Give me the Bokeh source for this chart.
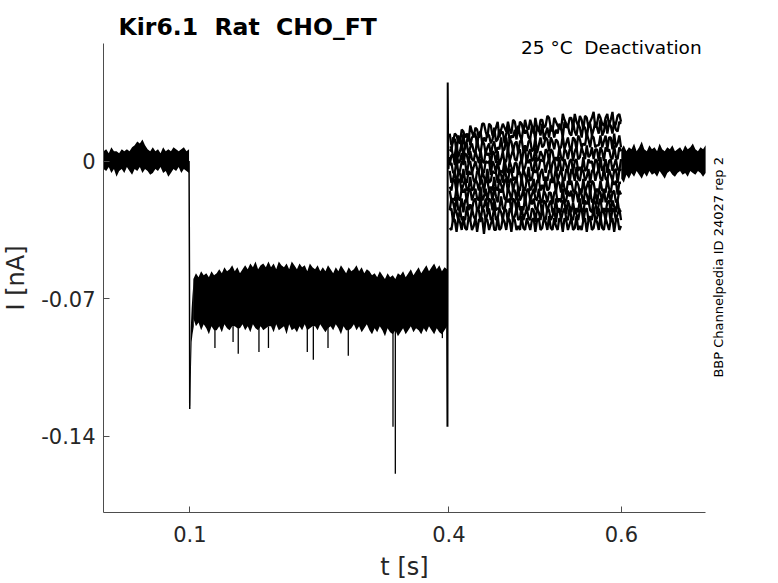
import numpy as np
from bokeh.plotting import figure
from bokeh.models import Range1d, FixedTicker, Label
from bokeh.embed import file_html
from bokeh.resources import INLINE

# ---------------- data (current in pA, time in s) ----------------
X_TICKS = [0.1, 0.4, 0.6]
X_TICK_LABELS = ["0.1", "0.4", "0.6"]
Y_TICKS = [-0.14, -0.07, 0.0]
Y_TICK_LABELS = ["-0.14", "-0.07", "0"]

# holding current before the step (envelope of the overlaid sweeps)
BASE_T = [0.0, 0.099]
BASE_UP_PA = [5, 6, 4, 7, 5, 5, 4, 6, 5, 6, 5, 7, 8, 10, 9, 11, 8, 6, 5, 7, 5, 6, 4, 7, 5, 6, 5, 7, 6, 5, 6, 7, 5, 6]
BASE_LO_PA = [-4, -5, -3, -6, -4, -8, -5, -4, -6, -3, -5, -7, -4, -5, -3, -6, -4, -5, -7, -6, -4, -5, -3, -6, -5, -8, -6, -4, -5, -3, -6, -4, -5, -6]

# capacitive spike at the step to the activation potential
STEP1_T = [0.099, 0.0995, 0.0998]
STEP1_PA = [0, -60, -126]
REC_T = [0.0998, 0.1003, 0.101, 0.102, 0.103, 0.1045]
REC_UP_PA = [-120, -100, -85, -75, -68, -60]
REC_LO_PA = [-126, -124, -110, -92, -88, -84]

# activation phase (envelope of the overlaid sweeps)
ACT_T = [0.104, 0.398]
ACT_UP_PA = [-60, -57, -59, -56, -58, -57, -59, -56, -58, -57,
             -55, -57, -54, -56, -55, -53, -56, -54, -57, -55,
             -53, -55, -52, -54, -51, -55, -53, -52, -54, -51,
             -54, -52, -55, -51, -53, -54, -52, -55, -51, -53,
             -55, -52, -54, -53, -56, -52, -54, -55, -53, -56,
             -54, -56, -53, -55, -57, -54, -56, -53, -55, -57,
             -54, -56, -55, -53, -56, -54, -57, -55, -56, -58,
             -57, -59, -56, -58, -60, -57, -59, -58, -60, -57,
             -58, -56, -59, -57, -55, -58, -56, -54, -57, -55,
             -53, -56, -54, -52, -55, -53, -56, -54, -55]
ACT_LO_PA = [-80, -84, -82, -86, -83, -85, -88, -84, -86, -86,
             -84, -87, -83, -85, -86, -84, -84, -85, -85, -83,
             -86, -84, -87, -83, -85, -86, -84, -86, -85, -84,
             -84, -87, -83, -86, -85, -84, -88, -83, -86, -85,
             -87, -84, -86, -83, -86, -85, -84, -84, -86, -83,
             -85, -87, -85, -84, -86, -83, -85, -88, -84, -86,
             -86, -85, -83, -86, -84, -87, -85, -83, -86, -88,
             -85, -87, -84, -86, -89, -85, -87, -88, -86, -89,
             -87, -85, -88, -86, -84, -87, -85, -86, -88, -85,
             -87, -84, -86, -88, -85, -87, -88, -86, -84]

# brief downward excursions of single sweeps
DIP_T = [0.129, 0.150, 0.156, 0.180, 0.191, 0.236, 0.243, 0.260, 0.2835, 0.3353, 0.338, 0.3925]
DIP_FROM_PA = [-84, -84, -84, -84, -84, -84, -84, -84, -84, -84, -84, -84]
DIP_TO_PA = [-95, -92, -98, -97, -95, -97, -101, -95, -99, -135, -159, -90]

# capacitive transient at the step to the deactivation potential
STEP2_T = [0.398, 0.3984, 0.3987, 0.3991, 0.3996, 0.4005, 0.401]
STEP2_PA = [-84, -135, 40, 12, -4, 2, 0]

# deactivation tail currents, one list per sweep (0.401 s .. 0.5995 s, 2 ms samples)
TAIL_T = [0.401, 0.5995]
TAIL_1_PA = [14, 8, 10, 14, 13, 10, 9, 16, 15, 12, 14, 10, 18, 15, 12, 17, 16, 12, 14, 19,
             19, 15, 12, 19, 18, 13, 14, 17, 20, 12, 16, 19, 17, 15, 20, 16, 14, 21, 20, 15,
             14, 20, 19, 15, 21, 17, 16, 21, 18, 14, 22, 17, 15, 21, 21, 17, 18, 23, 22, 17,
             15, 22, 20, 18, 17, 16, 24, 21, 19, 17, 22, 22, 17, 24, 20, 18, 23, 21, 16, 23,
             22, 17, 20, 22, 25, 17, 19, 24, 22, 19, 18, 22, 24, 18, 21, 25, 17, 19, 23, 24, 20]
TAIL_2_PA = [6, 5, 12, 11, 5, 13, 11, 7, 14, 6, 10, 14, 8, 12, 13, 14, 8, 14, 15, 9,
             12, 10, 14, 13, 9, 11, 17, 10, 11, 16, 14, 15, 9, 14, 17, 10, 13, 12, 16, 11,
             18, 13, 11, 17, 14, 16, 12, 11, 18, 16, 11, 18, 16, 13, 19, 11, 14, 17, 12, 18,
             17, 12, 16, 14, 19, 17, 12, 20, 17, 18, 14, 13, 20, 15, 13, 19, 17, 12, 18, 17,
             12, 18, 19, 13, 16, 20, 17, 14, 21, 13, 15, 21, 14, 19, 18, 14, 20, 16, 15, 20, 19]
TAIL_3_PA = [7, 7, 2, 3, 9, 2, 5, 9, 2, 8, 9, 3, 7, 9, 5, 4, 11, 6, 4, 10,
             9, 4, 7, 9, 3, 8, 10, 4, 7, 6, 12, 5, 6, 12, 5, 11, 10, 5, 9, 10,
             4, 10, 11, 5, 8, 5, 10, 11, 5, 6, 12, 4, 8, 12, 7, 8, 12, 11, 5, 12,
             10, 6, 11, 10, 6, 7, 13, 6, 9, 12, 7, 6, 12, 11, 6, 13, 11, 7, 9, 8,
             14, 11, 7, 13, 12, 7, 8, 8, 13, 7, 10, 13, 6, 12, 12, 6, 14, 7, 9, 13, 7]
TAIL_4_PA = [-2, 3, 3, -2, 5, -1, 0, 4, -2, 4, 3, -1, 5, 1, 0, 5, 2, -1, 6, 0,
             -1, 5, 3, 4, -2, 5, 4, -1, 5, -2, 1, 5, -1, 0, 7, 0, 3, 6, 1, 0,
             5, 6, -1, 5, 6, -1, 4, 6, 0, 1, 7, 0, 1, 5, 3, 0, 6, 5, -1, 6,
             5, 0, 2, 0, 7, 2, 0, 6, 5, 1, 6, 7, 0, 5, 7, 1, 2, 7, 4, 1,
             8, 2, 3, 7, 1, 6, 6, 0, 7, 5, 0, 7, 5, 6, 2, 1, 8, 2, 1, 7, 5]
TAIL_5_PA = [-2, -1, -6, -6, 1, -6, -5, 0, -1, 0, -7, -1, 0, -6, -3, 0, -4, -6, 1, -5,
             -6, 0, -1, 0, -7, 0, -2, -6, 0, -5, -5, -6, 1, -4, -6, 0, -3, -6, -1, -1,
             -7, -1, 1, -5, -3, 1, -1, 1, -5, -4, 2, -5, -4, 1, 0, 0, -6, -1, 1, -6,
             -1, 1, -4, -5, 2, -4, -5, 1, -2, -5, 0, 1, -6, 0, 1, -5, -3, -5, 2, -5,
             -4, 1, -1, 0, -5, 1, 0, -6, 2, -5, -3, 1, -6, 0, 1, -5, -2, 1, -4, -5, 1]
TAIL_6_PA = [-5, -11, -9, -5, -12, -6, -6, -11, -4, -10, -11, -5, -7, -5, -10, -11, -5, -6, -12, -5,
             -8, -11, -4, -11, -10, -5, -6, -6, -11, -5, -7, -11, -3, -8, -11, -4, -5, -10, -8, -10,
             -4, -6, -10, -4, -7, -10, -3, -10, -9, -4, -6, -4, -11, -6, -4, -10, -8, -10, -5, -4,
             -10, -9, -3, -10, -7, -4, -9, -10, -4, -5, -11, -4, -6, -10, -3, -9, -10, -4, -5, -10,
             -8, -4, -11, -5, -4, -10, -6, -4, -9, -10, -3, -9, -10, -4, -7, -10, -5, -4, -11, -5, -4]
TAIL_7_PA = [-13, -15, -9, -10, -16, -9, -10, -15, -12, -9, -15, -14, -8, -15, -14, -9, -11, -15, -9, -10,
             -16, -9, -10, -15, -13, -15, -8, -14, -15, -9, -12, -15, -10, -9, -16, -10, -9, -15, -11, -9,
             -14, -15, -8, -14, -15, -9, -10, -15, -13, -9, -16, -10, -9, -15, -12, -15, -8, -15, -14, -9,
             -11, -9, -16, -10, -11, -16, -9, -14, -17, -10, -12, -10, -15, -16, -10, -12, -16, -16, -9, -16,
             -13, -10, -17, -10, -11, -16, -14, -16, -10, -15, -15, -16, -9, -14, -16, -10, -12, -10, -17, -11, -11]
TAIL_8_PA = [-15, -20, -19, -20, -13, -19, -20, -14, -16, -14, -21, -15, -14, -20, -17, -14, -19, -20, -13, -20,
             -18, -14, -20, -15, -15, -20, -13, -18, -21, -14, -16, -14, -19, -20, -14, -16, -20, -14, -15, -20,
             -13, -20, -18, -14, -21, -15, -14, -20, -17, -14, -19, -20, -14, -20, -21, -15, -17, -21, -16, -16,
             -22, -16, -15, -21, -19, -21, -14, -21, -20, -15, -18, -15, -21, -15, -16, -21, -14, -17, -22, -15,
             -17, -21, -15, -21, -20, -15, -22, -15, -16, -21, -14, -21, -19, -15, -21, -16, -15, -21, -20, -15, -17]
TAIL_9_PA = [-25, -19, -21, -25, -18, -25, -24, -19, -26, -20, -19, -25, -22, -25, -20, -19, -25, -24, -18, -25,
             -23, -19, -26, -19, -20, -25, -19, -25, -24, -24, -18, -24, -25, -19, -21, -19, -26, -19, -20, -25,
             -19, -25, -23, -25, -18, -24, -25, -19, -22, -19, -24, -25, -20, -21, -27, -20, -21, -26, -22, -20,
             -26, -26, -19, -26, -25, -26, -20, -21, -27, -20, -23, -26, -21, -26, -24, -26, -19, -25, -26, -20,
             -22, -20, -25, -26, -20, -21, -27, -22, -19, -26, -24, -26, -21, -20, -26, -20, -23, -26, -20, -26, -25]
TAIL_10_PA = [-25, -24, -31, -24, -26, -30, -24, -30, -29, -30, -23, -29, -30, -24, -28, -30, -24, -25, -31, -24,
              -25, -30, -27, -24, -30, -29, -23, -30, -29, -24, -26, -30, -24, -25, -31, -24, -25, -30, -28, -24,
              -30, -29, -23, -30, -27, -24, -29, -30, -24, -25, -31, -24, -26, -30, -23, -29, -30, -24, -25, -30,
              -28, -24, -31, -25, -24, -30, -26, -24, -29, -30, -23, -29, -30, -24, -27, -30, -25, -24, -31, -25,
              -24, -30, -28, -30, -23, -30, -29, -24, -30, -24, -26, -30, -24, -25, -31, -24, -25, -30, -27, -24, -30]
TAIL_11_PA = [-34, -35, -29, -30, -36, -29, -31, -35, -28, -34, -35, -29, -30, -35, -33, -29, -36, -30, -29, -29,
              -37, -29, -30, -35, -32, -29, -35, -35, -28, -35, -34, -29, -31, -35, -29, -30, -36, -29, -30, -35,
              -33, -35, -28, -34, -35, -29, -32, -35, -30, -29, -36, -30, -29, -35, -34, -29, -31, -35, -28, -34,
              -35, -29, -33, -35, -29, -30, -36, -29, -30, -35, -32, -29, -35, -34, -28, -35, -33, -35, -30, -29,
              -36, -30, -29, -35, -34, -29, -31, -35, -28, -34, -35, -29, -32, -35, -30, -29, -36, -30, -29, -35, -33]
TAILS_PA = [TAIL_1_PA, TAIL_2_PA, TAIL_3_PA, TAIL_4_PA, TAIL_5_PA, TAIL_6_PA,
            TAIL_7_PA, TAIL_8_PA, TAIL_9_PA, TAIL_10_PA, TAIL_11_PA]

# back at holding potential (envelope)
POST_T = [0.5998, 0.6975]
POST_UP_PA = [6, 8, 5, 7, 6, 9, 5, 7, 10, 6, 5, 8, 6, 7, 5, 9, 6, 5, 7, 6, 8, 5, 6, 7, 5, 8, 6, 7, 9, 6, 5, 7, 6, 8]
POST_LO_PA = [-9, -11, -7, -9, -6, -8, -5, -7, -9, -6, -8, -5, -7, -6, -8, -5, -7, -9, -6, -5, -7, -8, -6, -5, -7, -6, -8, -5, -6, -7, -5, -6, -8, -6]

# axes box (data limits of the plotted window)
AX_X = (0.0, 0.6975)
AX_Y = (-0.1785, 0.0596)

TITLE = "Kir6.1\u00a0 Rat\u00a0 CHO_FT"
SUBTITLE = "25 °C\u00a0 Deactivation"
SIDE_NOTE = "BBP Channelpedia ID 24027 rep 2"

# ---------------- layout ----------------
W, H = 776, 581
X0_PX, PX_PER_S = 103.1, 863.1       # canvas x of t=0, pixels per second
Y0_PX, PX_PER_NA = 160.6, 1967.0     # canvas y of I=0, pixels per nA
VIEW_X = (-X0_PX / PX_PER_S, (W - X0_PX) / PX_PER_S)
VIEW_Y = (-(H - Y0_PX) / PX_PER_NA, Y0_PX / PX_PER_NA)


def nA(vals):
    return np.asarray(vals, dtype=float) / 1000.0


def tgrid(span, n):
    return np.linspace(span[0], span[1], n)


FONT = "DejaVu Sans"
TXT = "#262626"
AXC = "#4d4d4d"
INK = "black"

p = figure(width=W, height=H, min_border=0,
           x_range=Range1d(*VIEW_X), y_range=Range1d(*VIEW_Y),
           output_backend="svg", toolbar_location=None)
p.outline_line_color = None
p.grid.visible = False
p.background_fill_color = "white"
p.border_fill_color = "white"

# envelopes
p.varea(x=tgrid(BASE_T, len(BASE_UP_PA)), y1=nA(BASE_LO_PA), y2=nA(BASE_UP_PA), fill_color=INK)
p.varea(x=REC_T, y1=nA(REC_LO_PA), y2=nA(REC_UP_PA), fill_color=INK)
p.varea(x=tgrid(ACT_T, len(ACT_UP_PA)), y1=nA(ACT_LO_PA), y2=nA(ACT_UP_PA), fill_color=INK)
p.varea(x=tgrid(POST_T, len(POST_UP_PA)), y1=nA(POST_LO_PA), y2=nA(POST_UP_PA), fill_color=INK)

# transients
p.line(STEP1_T, nA(STEP1_PA), line_color=INK, line_width=1.5)
p.line(STEP2_T, nA(STEP2_PA), line_color=INK, line_width=2)
p.segment(x0=DIP_T, y0=nA(DIP_FROM_PA), x1=DIP_T, y1=nA(DIP_TO_PA), line_color=INK, line_width=1.3)

# tail currents
for tail in TAILS_PA:
    p.line(tgrid(TAIL_T, len(tail)), nA(tail), line_color=INK, line_width=2.3)

# axes drawn at the edges of the data window
p.xaxis.fixed_location = AX_Y[0]
p.xaxis.bounds = AX_X
p.yaxis.fixed_location = AX_X[0]
p.yaxis.bounds = AX_Y
for ax in (p.xaxis, p.yaxis):
    ax.axis_line_color = AXC
    ax.axis_line_width = 1
    ax.major_tick_line_color = AXC
    ax.major_tick_in = 6
    ax.major_tick_out = 0
    ax.minor_tick_line_color = None
    ax.major_label_text_font = FONT
    ax.major_label_text_font_size = "21px"
    ax.major_label_text_color = TXT
    ax.axis_label_text_font = FONT
    ax.axis_label_text_font_size = "24px"
    ax.axis_label_text_font_style = "normal"
    ax.axis_label_text_color = TXT

p.xaxis.ticker = FixedTicker(ticks=X_TICKS)
p.xaxis.major_label_overrides = {t: s for t, s in zip(X_TICKS, X_TICK_LABELS)}
p.yaxis.ticker = FixedTicker(ticks=Y_TICKS)
p.yaxis.major_label_overrides = {t: s for t, s in zip(Y_TICKS, Y_TICK_LABELS)}
p.xaxis.axis_label = "t [s]"
p.yaxis.axis_label = "I [nA]"
p.xaxis.major_label_standoff = 14
p.xaxis.axis_label_standoff = 7
p.yaxis.major_label_standoff = 8
p.yaxis.axis_label_standoff = 8

# texts
p.add_layout(Label(x=AX_X[0], y=AX_Y[1], x_offset=15, y_offset=17,
                   text=TITLE, text_font=FONT, text_font_size="23.5px",
                   text_font_style="bold", text_color="black", text_baseline="alphabetic"))
p.add_layout(Label(x=AX_X[1], y=AX_Y[1], x_offset=-4, y_offset=-4,
                   text=SUBTITLE, text_font=FONT, text_font_size="18.5px",
                   text_color="black", text_align="right", text_baseline="alphabetic"))
p.add_layout(Label(x=AX_X[1], y=-0.054, x_offset=13, angle=np.pi / 2,
                   text=SIDE_NOTE, text_font=FONT, text_font_size="13px",
                   text_color="black", text_align="center", text_baseline="middle"))

open("out.html", "w").write(file_html(p, INLINE))
